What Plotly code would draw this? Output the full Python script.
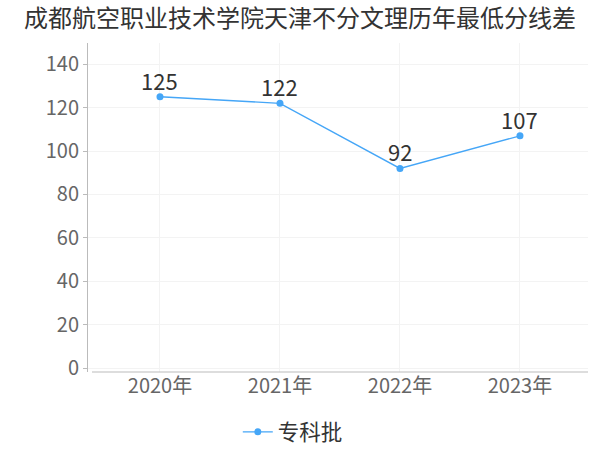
import plotly.graph_objects as go

categories = ["2020年", "2021年", "2022年", "2023年"]
series_name = "专科批"
values = [125, 122, 92, 107]
y_ticks = [0, 20, 40, 60, 80, 100, 120, 140]

FONT = "Noto Sans CJK SC"
BLUE = "#45a6f7"

xs = list(range(len(categories)))

fig = go.Figure()
fig.add_trace(go.Scatter(
    x=xs, y=values, name=series_name,
    mode="lines+markers",
    line=dict(color=BLUE, width=1.4),
    marker=dict(color=BLUE, size=7),
    cliponaxis=False,
))

for xv, v in zip(xs, values):
    fig.add_annotation(x=xv, y=v, text=str(v), showarrow=False,
                       xanchor="center", yanchor="bottom", yshift=-1,
                       font=dict(family=FONT, size=22, color="#333333"))

fig.update_layout(
    width=600, height=450,
    margin=dict(l=88, r=12, t=43, b=78, autoexpand=False),
    paper_bgcolor="white", plot_bgcolor="white",
    title=dict(text="成都航空职业技术学院天津不分文理历年最低分线差",
               x=0.5, xanchor="center", y=0.958, yanchor="middle",
               font=dict(family=FONT, size=24, color="#333333")),
    xaxis=dict(
        range=[-0.6, 3.567], automargin=False,
        tickmode="array", tickvals=xs, ticktext=categories,
        tickfont=dict(family=FONT, size=20, color="#666666"),
        showgrid=True, gridcolor="#f3f3f3", gridwidth=1,
        zeroline=False, showline=False, ticks="", ticklen=0,
    ),
    yaxis=dict(
        range=[-1.84, 149.8], automargin=False,
        tickmode="array", tickvals=y_ticks,
        tickfont=dict(family=FONT, size=20, color="#666666"),
        showgrid=True, gridcolor="#f3f3f3", gridwidth=1,
        zeroline=False, showline=True, linecolor="#bbbbbb", linewidth=1,
        ticks="outside", ticklen=4, tickcolor="#bbbbbb",
    ),
    showlegend=True,
    legend=dict(orientation="h", xref="container", x=0.488, xanchor="center",
                y=-0.182, yanchor="middle", itemwidth=30,
                font=dict(family=FONT, size=21.5, color="#333333")),
    shapes=[dict(type="line", xref="paper", yref="paper", x0=0.008, x1=1, y0=0, y1=0,
                 line=dict(color="#bbbbbb", width=1))],
)

fig.write_html("out.html", config={"displayModeBar": False},
               post_script="document.body.style.margin='0';")
